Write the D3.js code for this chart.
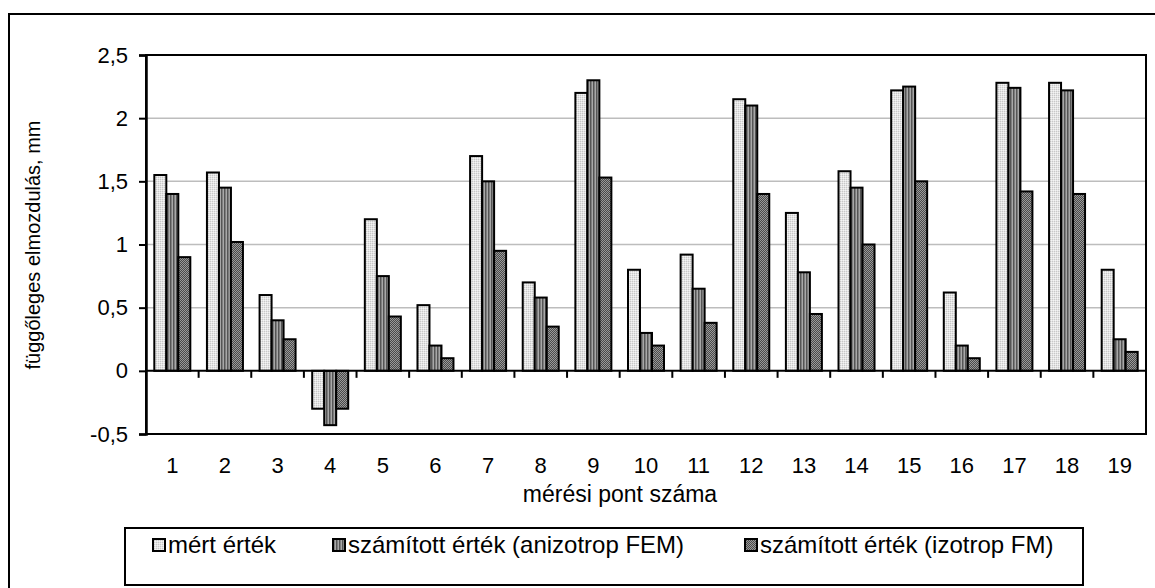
<!DOCTYPE html>
<html>
<head>
<meta charset="utf-8">
<script src="https://cdn.jsdelivr.net/npm/d3@7"></script>
<style>
  body { margin: 0; background: #fff; }
  text { font-family: "Liberation Sans", Arial, sans-serif; fill: #000; }
</style>
</head>
<body>
<div id="chart"></div>
<script>
// data
var points = ["1","2","3","4","5","6","7","8","9","10","11","12","13","14","15","16","17","18","19"];
var mert    = [1.55, 1.57, 0.6, -0.3, 1.2, 0.52, 1.7, 0.7, 2.2, 0.8, 0.92, 2.15, 1.25, 1.58, 2.22, 0.62, 2.28, 2.28, 0.8];
var anizo   = [1.4, 1.45, 0.4, -0.43, 0.75, 0.2, 1.5, 0.58, 2.3, 0.3, 0.65, 2.1, 0.78, 1.45, 2.25, 0.2, 2.24, 2.22, 0.25];
var izotrop = [0.9, 1.02, 0.25, -0.3, 0.43, 0.1, 0.95, 0.35, 1.53, 0.2, 0.38, 1.4, 0.45, 1.0, 1.5, 0.1, 1.42, 1.4, 0.15];
var seriesNames = ["mért érték", "számított érték (anizotrop FEM)", "számított érték (izotrop FM)"];
var yTicks = [-0.5, 0, 0.5, 1, 1.5, 2, 2.5];

var series = [mert, anizo, izotrop];
var fills = ["url(#patLight)", "url(#patStripe)", "url(#patCheck)"];

var W = 1155, H = 588;
var margin = {top: 55, right: 9, bottom: 154, left: 146};
var width = W - margin.left - margin.right,
    height = 434 - margin.top;

var svg = d3.select("#chart").append("svg")
    .attr("width", W).attr("height", H);

// patterns
var defs = svg.append("defs");
var p1 = defs.append("pattern").attr("id", "patLight").attr("patternUnits", "userSpaceOnUse")
    .attr("width", 2).attr("height", 2);
p1.append("rect").attr("width", 2).attr("height", 2).attr("fill", "#e4e4e4");
p1.append("rect").attr("width", 1).attr("height", 1).attr("fill", "#c8c8c8");
p1.append("rect").attr("x", 1).attr("y", 1).attr("width", 1).attr("height", 1).attr("fill", "#f4f4f4");

var p2 = defs.append("pattern").attr("id", "patStripe").attr("patternUnits", "userSpaceOnUse")
    .attr("width", 3).attr("height", 3);
p2.append("rect").attr("width", 3).attr("height", 3).attr("fill", "#a8a8a8");
p2.append("rect").attr("width", 1.5).attr("height", 3).attr("fill", "#555");

var p3 = defs.append("pattern").attr("id", "patCheck").attr("patternUnits", "userSpaceOnUse")
    .attr("width", 2).attr("height", 2);
p3.append("rect").attr("width", 2).attr("height", 2).attr("fill", "#999");
p3.append("rect").attr("width", 1).attr("height", 1).attr("fill", "#4a4a4a");
p3.append("rect").attr("x", 1).attr("y", 1).attr("width", 1).attr("height", 1).attr("fill", "#4a4a4a");

// outer chart frame (runs off the picture at right and bottom)
svg.append("rect")
    .attr("x", 9).attr("y", 14).attr("width", 1200).attr("height", 700)
    .attr("fill", "none").attr("stroke", "#000").attr("stroke-width", 2);

var g = svg.append("g").attr("transform", "translate(" + margin.left + "," + margin.top + ")");

var x = d3.scaleBand().domain(points).range([0, width]);
var xs = d3.scaleBand().domain([0, 1, 2]).range([0, 36]);
var y = d3.scaleLinear().domain([-0.5, 2.5]).range([height, 0]);

// grid
g.selectAll(".grid").data(yTicks.filter(function(d) { return d > -0.5 && d < 2.5 && d != 0; }))
  .enter().append("line")
    .attr("x1", 0).attr("x2", width)
    .attr("y1", function(d) { return y(d); }).attr("y2", function(d) { return y(d); })
    .attr("stroke", "#bdbdbd").attr("stroke-width", 1.5);

// plot frame
g.append("rect").attr("width", width).attr("height", height)
    .attr("fill", "none").attr("stroke", "#000").attr("stroke-width", 2);

// bars
series.forEach(function(vals, s) {
  g.selectAll(".bar" + s).data(vals).enter().append("rect")
    .attr("x", function(d, i) { return x(points[i]) + (x.bandwidth() - 36) / 2 + xs(s); })
    .attr("y", function(d) { return y(Math.max(0, d)); })
    .attr("width", xs.bandwidth())
    .attr("height", function(d) { return Math.abs(y(d) - y(0)); })
    .attr("fill", fills[s]).attr("stroke", "#000").attr("stroke-width", 2);
});

// y axis
var yAxis = g.append("g")
    .call(d3.axisLeft(y).tickValues(yTicks).tickSize(7).tickPadding(11)
      .tickFormat(function(d) { return String(d).replace(".", ","); }));
yAxis.select(".domain").attr("stroke-width", 2.5);
yAxis.selectAll(".tick line").attr("stroke-width", 2);
yAxis.selectAll("text").style("font-size", "22px").style("font-family", "Liberation Sans, Arial, sans-serif");

// x axis at zero, ticks between categories
var xAxisG = g.append("g").attr("transform", "translate(0," + y(0) + ")");
xAxisG.append("line").attr("x1", 0).attr("x2", width).attr("stroke", "#000").attr("stroke-width", 2);
xAxisG.selectAll(".xt").data(points.slice(1)).enter().append("line")
    .attr("x1", function(d) { return x(d); }).attr("x2", function(d) { return x(d); })
    .attr("y1", 0).attr("y2", 7).attr("stroke", "#000").attr("stroke-width", 2);

// category labels below plot
g.selectAll(".xl").data(points).enter().append("text")
    .attr("x", function(d) { return x(d) + x.bandwidth() / 2; })
    .attr("y", 473 - margin.top)
    .attr("text-anchor", "middle").style("font-size", "22px")
    .text(function(d) { return d; });

svg.append("text").attr("x", 620).attr("y", 502)
    .attr("text-anchor", "middle").style("font-size", "23px").text("mérési pont száma");

svg.append("text")
    .attr("transform", "translate(40,245) rotate(-90)")
    .attr("text-anchor", "middle").style("font-size", "20px")
    .text("függőleges elmozdulás, mm");

// legend
svg.append("rect").attr("x", 125).attr("y", 528).attr("width", 958).attr("height", 57)
    .attr("fill", "#fff").attr("stroke", "#000").attr("stroke-width", 2);
var legX = [153, 333, 745];
seriesNames.forEach(function(name, s) {
  svg.append("rect").attr("x", legX[s]).attr("y", 539).attr("width", 12).attr("height", 12)
      .attr("fill", fills[s]).attr("stroke", "#000").attr("stroke-width", 2);
  svg.append("text").attr("x", legX[s] + 15).attr("y", 553).style("font-size", "24px").text(name);
});
</script>
</body>
</html>
